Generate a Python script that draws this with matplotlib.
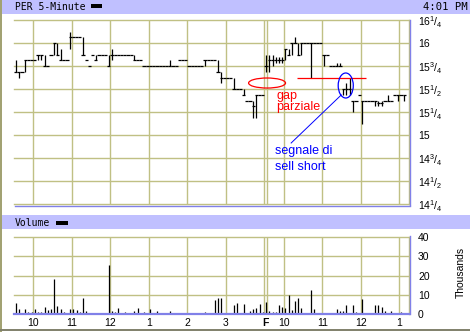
import matplotlib
matplotlib.use("Agg")
import matplotlib.pyplot as plt
from matplotlib.patches import Rectangle, Ellipse
from matplotlib.lines import Line2D

plt.rcParams['font.family'] = ['Liberation Sans', 'DejaVu Sans']
plt.rcParams['mathtext.fontset'] = 'custom'
plt.rcParams['mathtext.rm'] = 'Liberation Sans'
plt.rcParams['mathtext.it'] = 'Liberation Sans'

# --- 5-minute bars, two sessions (78 bars + 44 bars) ---
closes = [
    15.6875, 15.6875, 15.6875, 15.8125, 15.8125, 15.8125, 15.8125, 15.875, 15.875, 15.75, 15.75, 15.875,
    16.0, 15.875, 15.8125, 15.8125, 15.8125, 16.0625, 16.0625, 16.0625, 16.0625, 15.875, 15.8125, 15.75,
    15.875, 15.8125, 15.875, 15.875, 15.875, 15.75, 15.875, 15.875, 15.875, 15.875, 15.875, 15.875,
    15.875, 15.8125, 15.8125, 15.8125, 15.75, 15.75, 15.75, 15.75, 15.75, 15.75, 15.75, 15.75,
    15.75, 15.75, 15.75, 15.8125, 15.8125, 15.8125, 15.75, 15.75, 15.75, 15.75, 15.75, 15.8125,
    15.8125, 15.8125, 15.8125, 15.6875, 15.625, 15.625, 15.625, 15.625, 15.5, 15.5, 15.5, 15.4375,
    15.375, 15.375, 15.3125, 15.4375, 15.4375, 15.4375,
    15.75, 15.8125, 15.8125, 15.8125, 15.8125, 15.8125,
    15.9375, 15.875, 16.0, 16.0, 15.875, 16.0, 16.0, 16.0, 16.0, 16.0, 16.0, 16.0,
    15.875, 15.875, 15.75, 15.75, 15.75, 15.75, 15.5, 15.5, 15.5, 15.375, 15.375, 15.4375,
    15.375, 15.375, 15.375, 15.375, 15.375, 15.34375, 15.34375, 15.375, 15.375, 15.375, 15.4375, 15.4375,
    15.4375, 15.4375,
]
highs = [
    15.8125, 15.6875, 15.6875, 15.8125, 15.8125, 15.8125, 15.8125, 15.875, 15.875, 15.875, 15.75, 15.875,
    16.0, 16.0, 15.9375, 15.8125, 15.8125, 16.125, 16.0625, 16.0625, 16.0625, 16.0625, 15.8125, 15.75,
    15.875, 15.875, 15.875, 15.875, 15.875, 15.875, 15.9375, 15.875, 15.875, 15.875, 15.875, 15.875,
    15.875, 15.875, 15.8125, 15.8125, 15.75, 15.75, 15.75, 15.75, 15.75, 15.75, 15.75, 15.75,
    15.8125, 15.75, 15.75, 15.8125, 15.8125, 15.8125, 15.75, 15.75, 15.75, 15.75, 15.75, 15.8125,
    15.8125, 15.8125, 15.8125, 15.8125, 15.6875, 15.625, 15.625, 15.625, 15.625, 15.5, 15.5, 15.5,
    15.375, 15.375, 15.375, 15.4375, 15.4375, 15.4375,
    15.875, 15.875, 15.875, 15.84375, 15.84375, 15.84375,
    15.9375, 15.9375, 16.0, 16.0625, 16.0, 16.0, 16.0, 16.0, 16.0, 16.0, 16.0, 16.0,
    15.875, 15.875, 15.75, 15.75, 15.78125, 15.78125, 15.5, 15.5625, 15.625, 15.375, 15.375, 15.4375,
    15.375, 15.375, 15.375, 15.375, 15.375, 15.375, 15.375, 15.375, 15.4375, 15.375, 15.4375, 15.4375,
    15.4375, 15.4375,
]
lows = [
    15.6875, 15.625, 15.6875, 15.6875, 15.8125, 15.8125, 15.8125, 15.8125, 15.8125, 15.75, 15.75, 15.875,
    15.875, 15.875, 15.8125, 15.8125, 15.8125, 15.9375, 16.0625, 16.0625, 16.0625, 15.875, 15.8125, 15.75,
    15.875, 15.8125, 15.875, 15.875, 15.875, 15.75, 15.8125, 15.875, 15.875, 15.875, 15.875, 15.875,
    15.875, 15.8125, 15.8125, 15.8125, 15.75, 15.75, 15.75, 15.75, 15.75, 15.75, 15.75, 15.75,
    15.75, 15.75, 15.75, 15.8125, 15.8125, 15.8125, 15.75, 15.75, 15.75, 15.75, 15.75, 15.75,
    15.8125, 15.8125, 15.8125, 15.6875, 15.5625, 15.625, 15.625, 15.625, 15.5, 15.5, 15.5, 15.4375,
    15.375, 15.375, 15.1875, 15.1875, 15.4375, 15.4375,
    15.6875, 15.6875, 15.75, 15.78125, 15.78125, 15.78125,
    15.8125, 15.875, 15.875, 16.0, 15.875, 15.875, 16.0, 16.0, 15.625, 16.0, 16.0, 16.0,
    15.75, 15.875, 15.75, 15.75, 15.75, 15.75, 15.4375, 15.4375, 15.4375, 15.25, 15.375, 15.4375,
    15.125, 15.375, 15.375, 15.375, 15.3125, 15.3125, 15.3125, 15.375, 15.375, 15.375, 15.4375, 15.375,
    15.4375, 15.375,
]
# volume in thousands
volume = [
    5.6, 2.6, 0, 2.6, 1.2, 1.2, 2.6, 1.2, 1.2, 3.5, 2.1, 2.6,
    18.2, 4.2, 2.6, 1.2, 0, 2.6, 2.6, 2.1, 1.2, 8.3, 1.6, 0,
    0, 0, 0, 0, 0, 25.5, 1.6, 1.2, 3.1, 0, 1.2, 0,
    0, 1.6, 3.1, 0, 1.2, 0, 2.6, 0, 1.6, 0, 0, 0,
    1.6, 0, 0, 0, 0, 0, 0, 0, 0, 0, 0, 1.2,
    0, 0, 7.3, 8.3, 8.3, 0, 0, 0, 4.7, 5.6, 0, 5.2,
    0, 1.7, 2.4, 2.9, 5.0, 1.2,
    6.1, 1.6, 1.2, 1.2, 4.7, 3.5,
    2.9, 9.9, 2.1, 6.8, 8.3, 3.3, 0, 0, 12.5, 2.8, 0, 0,
    0, 0, 0, 0, 2.8, 1.6, 1.7, 4.5, 0, 4.5, 1.2, 0,
    7.8, 0, 0, 0, 4.5, 4.8, 3.8, 1.6, 0, 1.6, 0, 0,
    1.2, 0,
]

price_ticks = [14.25, 14.5, 14.75, 15.0, 15.25, 15.5, 15.75, 16.0, 16.25]
price_labels = ['$14^1/_4$', '$14^1/_2$', '$14^3/_4$', '15', '$15^1/_4$',
                '$15^1/_2$', '$15^3/_4$', '16', '$16^1/_4$']
vol_ticks = [0, 10, 20, 30, 40]
hour_pos = [6, 18, 30, 42, 54, 66, 77.9, 78.8, 84, 96, 108, 120]
hour_labels = ['10', '11', '12', '1', '2', '3', 'F', '10', '11', '12', '1']
hour_label_pos = [6, 18, 30, 42, 54, 66, 78.2, 84, 96, 108, 120]
NBARS = 123

# annotation anchors (bar index, price)
gap_ellipse = (78.8, 15.565, 11.5, 0.109)
signal_ellipse = (103.3, 15.538, 4.7, 0.272)
signal_arrow = [(86.3, 14.913), (101.9, 15.435)]

W, H = 470, 332
GRID = '#c0c084'
BAND = '#c0c0ff'
SHADOW = '#8080e8'
EDGE = '#a0a070'
LW = 0.9


def fx(px):
    return px / W


def fy(py):
    return 1 - py / H


fig = plt.figure(figsize=(W / 100, H / 100), dpi=100)
fig.patch.set_facecolor('white')

# header bands
for y0, y1 in [(0, 14), (215, 229)]:
    fig.add_artist(Rectangle((fx(2), fy(y1)), 1 - fx(2), (y1 - y0) / H,
                             transform=fig.transFigure, facecolor=BAND, edgecolor='none'))
fig.add_artist(Line2D([fx(0.7), fx(0.7)], [0, 1], color=EDGE, lw=1.4))
fig.add_artist(Line2D([0, 1], [fy(329.5), fy(329.5)], color='#80806a', lw=1.4))

fig.text(fx(15), fy(10), 'PER 5-Minute', family='DejaVu Sans Mono', size=7)
fig.add_artist(Rectangle((fx(91), fy(8)), fx(11), 4 / H, transform=fig.transFigure,
                         facecolor='black', edgecolor='none'))
fig.text(fx(468), fy(10), '4:01 PM', family='DejaVu Sans Mono', size=7.6, ha='right')
fig.text(fx(15), fy(226), 'Volume', family='DejaVu Sans Mono', size=7)
fig.add_artist(Rectangle((fx(56), fy(225)), fx(12), 4 / H, transform=fig.transFigure,
                         facecolor='black', edgecolor='none'))
fig.text(fx(461), fy(272), 'Thousands', rotation=90, ha='center', va='center', size=7.5)

# --- price panel ---
ax = fig.add_axes([fx(14), fy(204), fx(409) - fx(14), (204 - 20) / H])
ax.set_xlim(0, NBARS)
ax.set_ylim(14.25, 16.25)
for p in price_ticks:
    ax.axhline(p, color=GRID, lw=1, zorder=1, clip_on=False)
for h in hour_pos:
    ax.axvline(h, color=GRID, lw=1, zorder=1)
ax.axvline(NBARS, color=GRID, lw=1, zorder=1, clip_on=False)

xs = list(range(len(closes)))
ax.hlines(closes, [x for x in xs], [x + 1 for x in xs], color='black', lw=LW, zorder=3)
ax.vlines([x + 0.5 for x in xs], lows, highs, color='black', lw=LW, zorder=3)

ax.hlines(lows[92], 88.2, 109.7, color='red', lw=LW, zorder=4)
ax.add_patch(Ellipse(gap_ellipse[:2], gap_ellipse[2], gap_ellipse[3],
                     fill=False, edgecolor='red', lw=0.9, zorder=4))
ax.add_patch(Ellipse(signal_ellipse[:2], signal_ellipse[2], signal_ellipse[3],
                     fill=False, edgecolor='blue', lw=0.9, zorder=4))
ax.plot([signal_arrow[0][0], signal_arrow[1][0]], [signal_arrow[0][1], signal_arrow[1][1]],
        color='blue', lw=0.7, zorder=4)
ax.text(81.6, 15.391, 'gap', color='red', size=9, va='baseline')
ax.text(81.6, 15.272, 'parziale', color='red', size=9, va='baseline')
ax.text(81.3, 14.793, 'segnale di', color='blue', size=9, va='baseline')
ax.text(81.3, 14.620, 'sell short', color='blue', size=9, va='baseline')

ax.yaxis.tick_right()
ax.set_yticks(price_ticks, labels=price_labels)
ax.set_xticks([])
ax.tick_params(axis='y', length=0, pad=6.5, labelsize=7.5)
for s in ax.spines.values():
    s.set_visible(False)

# --- volume panel ---
axv = fig.add_axes([fx(14), fy(314), fx(409) - fx(14), (314 - 237) / H])
axv.set_xlim(0, NBARS)
axv.set_ylim(0, 40)
for v in vol_ticks[1:]:
    axv.axhline(v, color=GRID, lw=1, zorder=1, clip_on=False)
for h in hour_pos:
    axv.axvline(h, color=GRID, lw=1, zorder=1)
axv.axvline(NBARS, color=GRID, lw=1, zorder=1, clip_on=False)
axv.vlines([x + 0.5 for x in xs], 0, volume, color='black', lw=LW, zorder=3)
axv.axhline(0, color=SHADOW, lw=1.6, zorder=4, clip_on=False)

axv.yaxis.tick_right()
axv.set_yticks(vol_ticks)
axv.set_xticks(hour_label_pos, labels=hour_labels)
axv.tick_params(axis='y', length=0, pad=6.5, labelsize=7.5)
axv.tick_params(axis='x', length=0, pad=3, labelsize=7.5)
for lbl in axv.get_xticklabels():
    if lbl.get_text() == 'F':
        lbl.set_fontweight('bold')
for s in axv.spines.values():
    s.set_visible(False)

# panel shadows
fig.add_artist(Line2D([fx(410), fx(410)], [fy(205), fy(20)], color=SHADOW, lw=1.0))
fig.add_artist(Line2D([fx(15), fx(410)], [fy(205.5), fy(205.5)], color=SHADOW, lw=1.0))
fig.add_artist(Line2D([fx(410), fx(410)], [fy(314), fy(236)], color=SHADOW, lw=1.0))

fig.savefig('out.png', dpi=100)
